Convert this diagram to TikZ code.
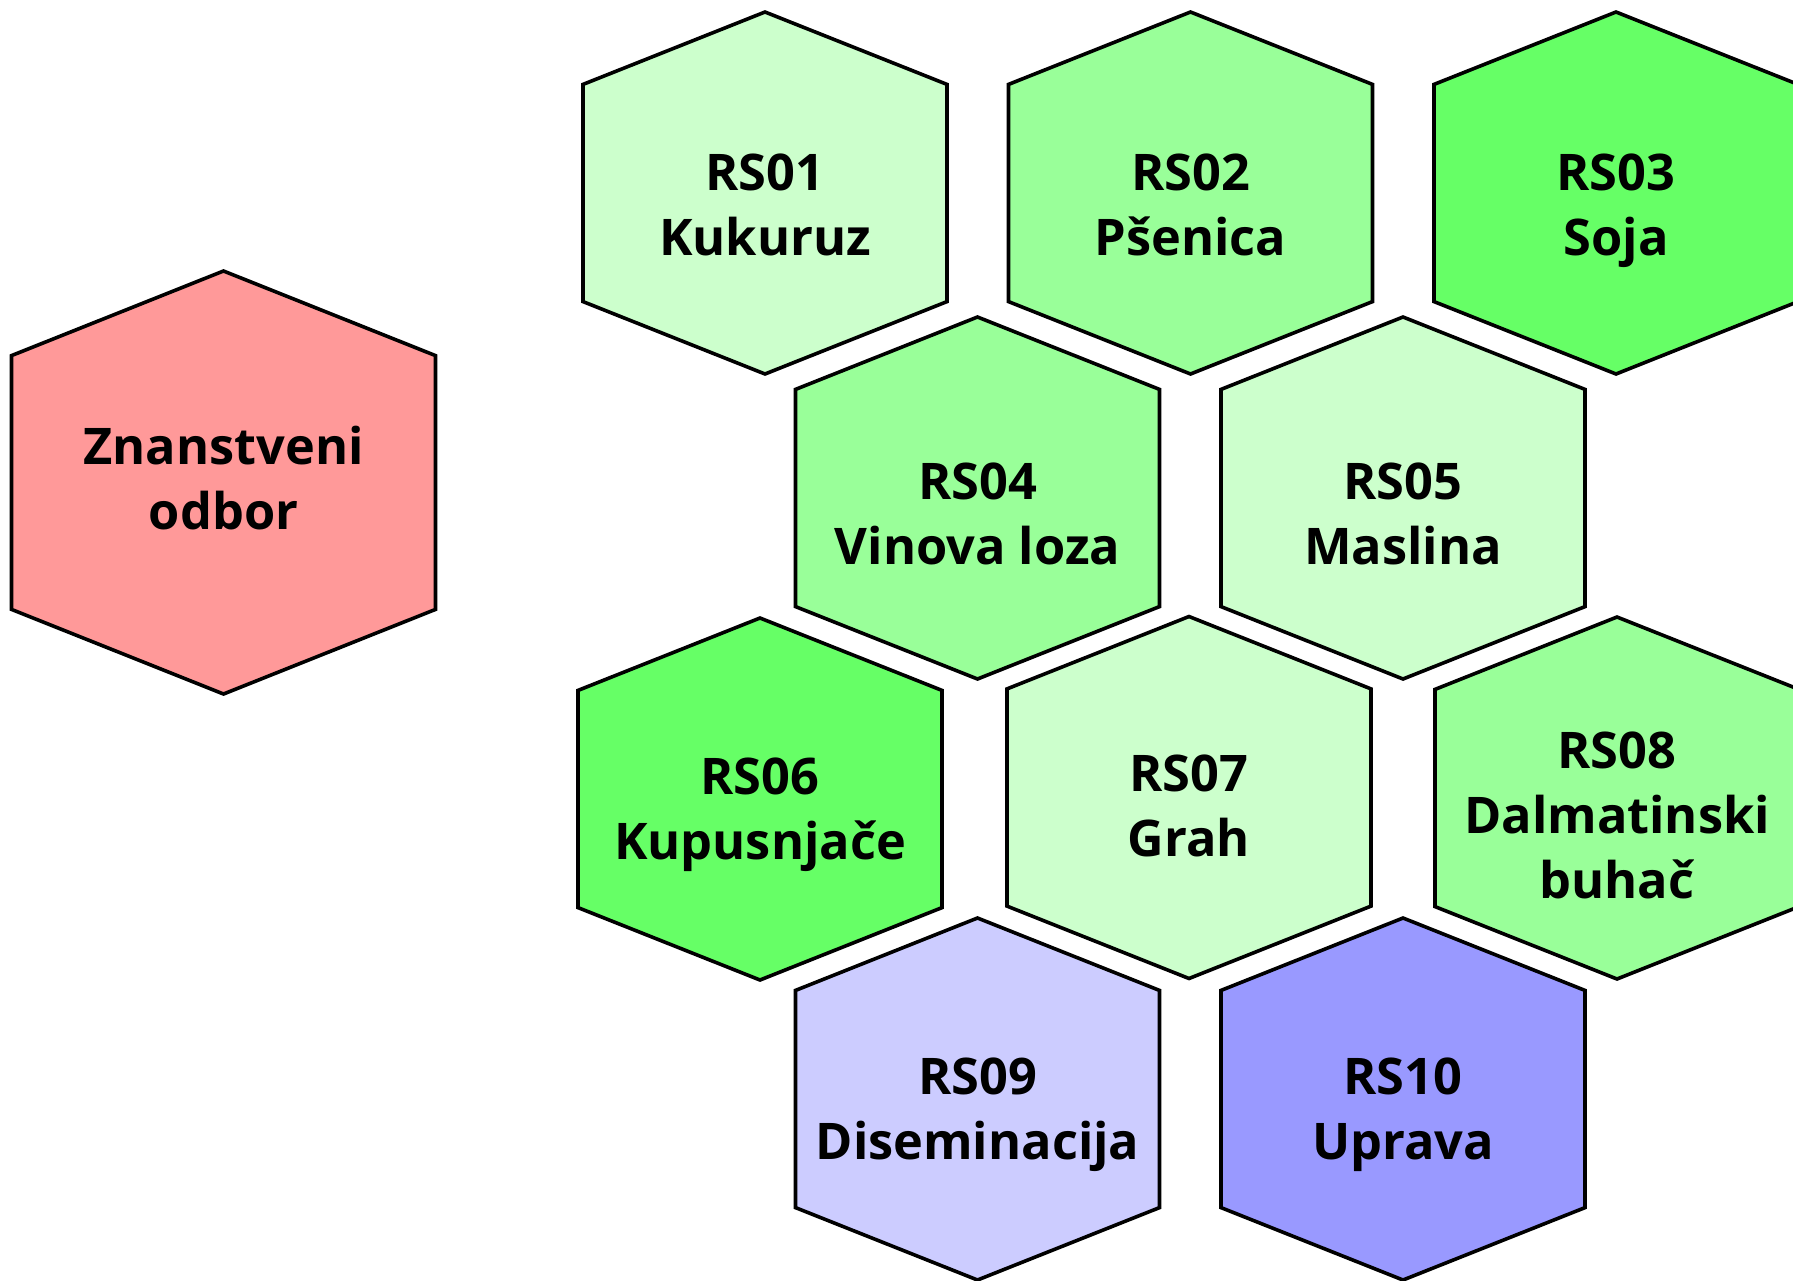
\documentclass[tikz,border=0pt]{standalone}
\usepackage{fontspec}
\setmainfont{Open Sans}
\definecolor{gLight}{HTML}{CCFFCC}
\definecolor{gMid}{HTML}{99FF99}
\definecolor{gDeep}{HTML}{66FF66}
\definecolor{bLight}{HTML}{CCCCFF}
\definecolor{bMid}{HTML}{9999FF}
\definecolor{rMid}{HTML}{FF9999}
\tikzset{
  hexline/.style={draw=black, line width=3.6pt, line join=miter},
  hexlabel/.style={align=center, inner sep=0pt, text=black,
    font=\fontsize{50.5}{65}\selectfont\bfseries}
}
% #1 name, #2 cx, #3 cy, #4 half width, #5 half height, #6 fill, #7 text centre y, #8 text
\newcommand\hexcell[8]{%
  \draw[hexline, fill=#6] (#2-#4, #3-0.6*#5) -- (#2, #3-#5) -- (#2+#4, #3-0.6*#5)
    -- (#2+#4, #3+0.6*#5) -- (#2, #3+#5) -- (#2-#4, #3+0.6*#5) -- cycle;
  \node[hexlabel] (#1) at (#2, #7) {#8};
}
\begin{document}
\begin{tikzpicture}[x=1pt, y=-1pt]
\clip (0,0) rectangle (1793,1280);
\fill[white] (0,0) rectangle (1793,1280);
\hexcell{zo}{223.5}{482.5}{212}{211.5}{rMid}{483.5}{\strut Znanstveni\\odbor\strut}
\hexcell{rs01}{765}{193}{182}{181}{gLight}{209.5}{\strut RS01\\Kukuruz\strut}
\hexcell{rs02}{1190.5}{193}{182}{181}{gMid}{209.5}{\strut RS02\\Pšenica\strut}
\hexcell{rs03}{1616}{193}{182}{181}{gDeep}{209.5}{\strut RS03\\Soja\strut}
\hexcell{rs04}{977.5}{498}{182}{181}{gMid}{519}{\strut RS04\\Vinova loza\strut}
\hexcell{rs05}{1403}{498}{182}{181}{gLight}{519}{\strut RS05\\Maslina\strut}
\hexcell{rs06}{760}{799}{182}{181}{gDeep}{813.5}{\strut RS06\\Kupusnjače\strut}
\hexcell{rs07}{1189}{797.5}{182}{181}{gLight}{811}{\strut RS07\\Grah\strut}
\hexcell{rs08}{1617}{798}{182}{181}{gMid}{820}{\strut RS08\\Dalmatinski\\buhač\strut}
\hexcell{rs09}{977.5}{1099}{182}{181}{bLight}{1113.5}{\strut RS09\\Diseminacija\strut}
\hexcell{rs10}{1403}{1099}{182}{181}{bMid}{1113.5}{\strut RS10\\Uprava\strut}
\end{tikzpicture}
\end{document}
